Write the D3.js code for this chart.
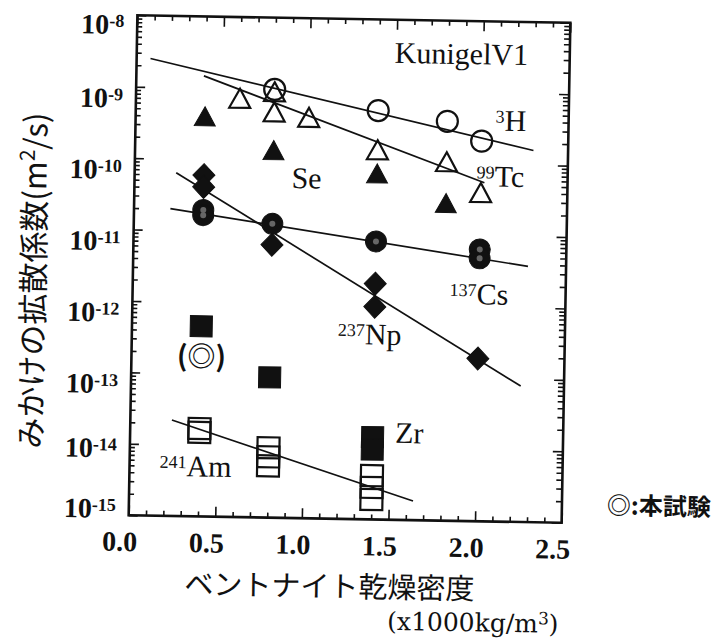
<!DOCTYPE html>
<html>
<head>
<meta charset="utf-8">
<script src="https://cdn.jsdelivr.net/npm/d3@7/dist/d3.min.js"></script>
<style>
  body { margin: 0; background: #fff; }
  svg { display: block; }
  .serif { font-family: "Liberation Serif", "Times New Roman", serif; fill: #111; }
  .jp { font-family: "Noto Sans CJK JP", "Noto Sans", sans-serif; fill: #111; }
</style>
</head>
<body>
<svg id="chart" width="724" height="642"></svg>
<script>
// tick labels
var xTickValues = [0.0, 0.5, 1.0, 1.5, 2.0, 2.5];
var yExponents = [-8, -9, -10, -11, -12, -13, -14, -15];

// dry density (x1000 kg/m3) vs apparent diffusivity (m2/s)
var h3Density = [0.8, 1.4, 1.8, 2.0];
var h3Da = [9.9e-10, 5.3e-10, 3.9e-10, 2.1e-10];
var tcDensity = [0.6, 0.8, 0.8, 1.0, 1.4, 1.8, 2.0];
var tcDa = [7.3e-10, 9.2e-10, 4.8e-10, 4.1e-10, 1.5e-10, 1.06e-10, 4.0e-11];
var seDensity = [0.4, 0.8, 1.4, 1.8];
var seDa = [4.0e-10, 1.4e-10, 7.0e-11, 2.8e-11];
var csDensity = [0.4, 0.4, 0.8, 1.4, 2.0, 2.0];
var csDa = [1.95e-11, 1.65e-11, 1.3e-11, 7.8e-12, 6.4e-12, 4.8e-12];
var npDensity = [0.4, 0.4, 0.8, 1.4, 1.4, 2.0];
var npDa = [6.0e-11, 4.1e-11, 6.6e-12, 2.0e-12, 9.5e-13, 1.9e-13];
var zrDensity = [0.4, 0.8, 1.4, 1.4];
var zrDa = [4.6e-13, 9.2e-14, 1.42e-14, 9.5e-15];
var amDensity = [0.4, 0.4, 0.8, 0.8, 0.8, 1.4, 1.4, 1.4];
var amDa = [1.7e-14, 1.5e-14, 9.5e-15, 7.1e-15, 5.3e-15, 4.1e-15, 2.8e-15, 1.9e-15];

// fitted lines, [density, Da] at each end
var h3Fit = [[0.08, 2.5e-9], [2.3, 1.6e-10]];
var tcFit = [[0.39, 1.47e-9], [2.02, 5.5e-11]];
var csFit = [[0.21, 2.0e-11], [2.28, 3.8e-12]];
var npFit = [[0.24, 6.4e-11], [2.25, 8.0e-14]];
var amFit = [[0.24, 2.2e-14], [1.64, 1.85e-15]];

var margin = {left: 133, top: 19};
var width = 433, height = 500;

var svg = d3.select("#chart");
// the scanned page is tilted by about one degree
var page = svg.append("g").attr("transform", "rotate(1,349.5,269.25)");
var g = page.append("g")
    .attr("transform", "translate(" + margin.left + "," + margin.top + ")");

var x = d3.scaleLinear().domain([0, 2.5]).range([0, width]);
var y = d3.scaleLog().domain([1e-15, 1e-8]).range([height, 0]);

var xMinorValues = d3.range(1, 25).map(function(i) { return i / 10; })
  .filter(function(v) { return Math.round(v * 10) % 5 !== 0; });
var yMajorValues = yExponents.map(function(e) { return Math.pow(10, e); });
var yMinorValues = [];
d3.range(-15, -8).forEach(function(e) {
  d3.range(2, 10).forEach(function(k) { yMinorValues.push(k * Math.pow(10, e)); });
});

function drawAxis(axis, transform) {
  var a = g.append("g").attr("transform", transform).call(axis);
  a.select(".domain").remove();
  a.selectAll("line").attr("stroke", "#111").attr("stroke-width", 1.6);
  return a;
}

var bottom = "translate(0," + height + ")";
var right = "translate(" + width + ",0)";
drawAxis(d3.axisBottom(x).tickValues(xMinorValues).tickSize(-5).tickFormat(""), bottom);
var xAxis = drawAxis(d3.axisBottom(x).tickValues(xTickValues).tickSize(-10)
    .tickPadding(16).tickFormat(d3.format(".1f")), bottom);
xAxis.attr("font-family", null).attr("font-size", null);
xAxis.selectAll("text")
    .attr("class", "serif")
    .attr("x", -9)
    .style("font-size", "28px")
    .style("font-weight", "bold");
drawAxis(d3.axisTop(x).tickValues(xMinorValues).tickSize(-5).tickFormat(""), "translate(0,0)");
drawAxis(d3.axisTop(x).tickValues(xTickValues).tickSize(-10).tickFormat(""), "translate(0,0)");
drawAxis(d3.axisLeft(y).tickValues(yMinorValues).tickSize(-5).tickFormat(""), "translate(0,0)");
drawAxis(d3.axisLeft(y).tickValues(yMajorValues).tickSize(-9).tickFormat(""), "translate(0,0)");
drawAxis(d3.axisRight(y).tickValues(yMinorValues).tickSize(-6).tickFormat(""), right);
drawAxis(d3.axisRight(y).tickValues(yMajorValues).tickSize(-10).tickFormat(""), right);

g.append("rect")
    .attr("width", width)
    .attr("height", height)
    .attr("fill", "none")
    .attr("stroke", "#111")
    .attr("stroke-width", 2.6);

// y tick labels 10^n; the last two sit a little higher in the original
function nudge(e) {
  if (e === -8) return -2;
  if (e === -14) return -7;
  if (e === -15) return -18;
  return 0;
}
var yLabels = g.append("g").selectAll("text").data(yExponents).join("text")
    .attr("class", "serif")
    .attr("text-anchor", "end")
    .attr("x", -13)
    .attr("y", function(e) { return y(Math.pow(10, e)) + 21 + nudge(e); })
    .style("font-size", "28px")
    .style("font-weight", "bold");
yLabels.append("tspan").text("10");
yLabels.append("tspan")
    .attr("dy", -7)
    .style("font-size", "18px")
    .text(function(e) { return "-" + Math.abs(e); });

// fitted lines
var line = d3.line()
    .x(function(d) { return x(d[0]); })
    .y(function(d) { return y(d[1]); });
[h3Fit, tcFit, csFit, npFit, amFit].forEach(function(f) {
  g.append("path")
      .attr("d", line(f))
      .attr("fill", "none")
      .attr("stroke", "#111")
      .attr("stroke-width", 1.7);
});

// markers
var shapes = {
  circle: "M0,-10.5A10.5,10.5 0 1,1 0,10.5A10.5,10.5 0 1,1 0,-10.5Z",
  triangle: "M0,-9.5L10.5,9.5L-10.5,9.5Z",
  diamond: "M0,-11.5L11,0L0,11.5L-11,0Z",
  square: "M-11,-10.5H11V10.5H-11Z"
};

function plot(xs, ys, shape, filled) {
  return g.append("g").selectAll("path").data(xs).join("path")
      .attr("transform", function(d, i) {
        return "translate(" + x(d) + "," + y(ys[i]) + ")";
      })
      .attr("d", shapes[shape])
      .attr("fill", filled ? "#111" : "none")
      .attr("stroke", "#111")
      .attr("stroke-width", filled ? 1 : 2.2);
}

plot(h3Density, h3Da, "circle", false);
plot(tcDensity, tcDa, "triangle", false);
plot(seDensity, seDa, "triangle", true);
plot(npDensity, npDa, "diamond", true);
plot(zrDensity, zrDa, "square", true);
plot(amDensity, amDa, "square", false);
plot(csDensity, csDa, "circle", true);
// grey speckle in the Cs dots
g.append("g").selectAll("circle").data(csDensity).join("circle")
    .attr("cx", function(d) { return x(d); })
    .attr("cy", function(d, i) { return y(csDa[i]); })
    .attr("r", 3)
    .attr("fill", "#666");

// nuclide labels
function isotope(sup, name, px, py) {
  var t = page.append("text")
      .attr("class", "serif")
      .attr("x", px)
      .attr("y", py)
      .style("font-size", "30px");
  if (sup) t.append("tspan").attr("dy", -8).style("font-size", "18px").text(sup);
  t.append("tspan").attr("dy", sup ? 8 : 0).text(name);
}
isotope("", "KunigelV1", 391, 62);
isotope("3", "H", 493, 128);
isotope("99", "Tc", 475, 184);
isotope("", "Se", 290, 189);
isotope("137", "Cs", 450, 302);
isotope("237", "Np", 339, 344);
isotope("", "Zr", 398, 442);
isotope("241", "Am", 163, 479);

page.append("text")
    .attr("class", "jp")
    .attr("x", 203)
    .attr("y", 357)
    .attr("text-anchor", "middle")
    .attr("dominant-baseline", "central")
    .style("font-size", "28px")
    .style("font-weight", "bold")
    .text("(◎)");

// axis titles
var yTitle = page.append("text")
    .attr("class", "jp")
    .attr("transform", "translate(31,286) rotate(-90)")
    .attr("text-anchor", "middle")
    .attr("dominant-baseline", "central")
    .style("font-size", "31px");
yTitle.append("tspan").text("みかけの拡散係数(m");
yTitle.append("tspan").attr("dy", -7).style("font-size", "21px").text("2");
yTitle.append("tspan").attr("dy", 7).text("/s)");

page.append("text")
    .attr("class", "jp")
    .attr("x", 335)
    .attr("y", 584)
    .attr("text-anchor", "middle")
    .attr("dominant-baseline", "central")
    .style("font-size", "29px")
    .text("ベントナイト乾燥密度");

var unit = page.append("text")
    .attr("x", 479)
    .attr("y", 629)
    .attr("text-anchor", "middle")
    .style("font-family", "'DejaVu Serif', serif")
    .style("fill", "#111")
    .style("font-size", "25px");
unit.append("tspan").text("(x1000kg/m");
unit.append("tspan").attr("dy", -8).style("font-size", "17px").text("3");
unit.append("tspan").attr("dy", 8).text(")");

page.append("text")
    .attr("class", "jp")
    .attr("x", 663)
    .attr("y", 499)
    .attr("text-anchor", "middle")
    .attr("dominant-baseline", "central")
    .style("font-size", "24px")
    .style("font-weight", "bold")
    .text("◎:本試験");
</script>
</body>
</html>
